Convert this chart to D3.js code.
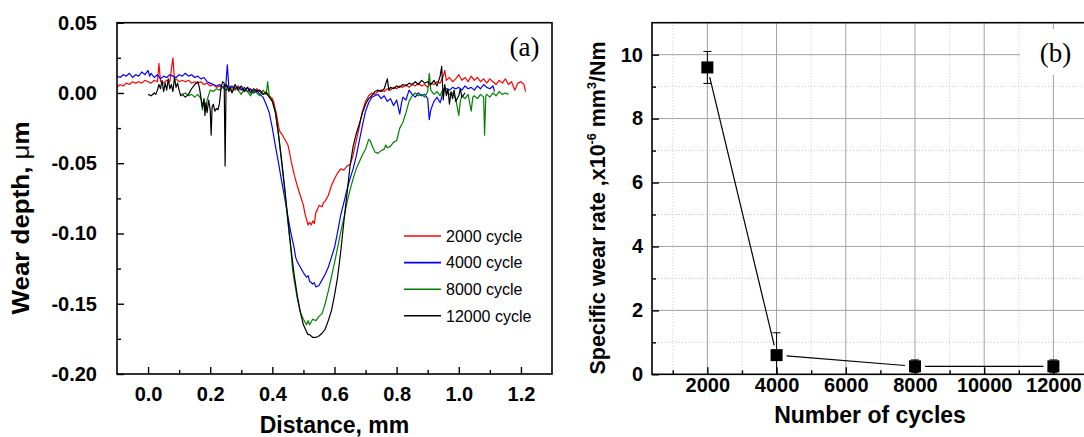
<!DOCTYPE html>
<html><head><meta charset="utf-8">
<script src="https://cdn.jsdelivr.net/npm/d3@7"></script>
<style>
body{margin:0;background:#fff}
svg{display:block}
text{font-family:"Liberation Sans",Arial,sans-serif}
</style>
</head><body>
<svg id="chart" width="1084" height="437"></svg>
<script>
// ---------- Panel (a): wear depth profiles [distance mm, depth um] ----------
const cycle2000 = [[-0.10,0.004],[-0.09,0.006],[-0.08,0.005],[-0.07,0.007],[-0.06,0.006],[-0.05,0.008],[-0.04,0.007],[-0.03,0.008],[-0.02,0.007],[-0.01,0.009],[0.00,0.008],[0.01,0.007],[0.02,0.009],[0.03,0.008],[0.035,0.021],[0.04,0.008],[0.05,0.007],[0.06,0.009],[0.07,0.008],[0.08,0.025],[0.085,0.009],[0.09,0.010],[0.10,0.008],[0.11,0.009],[0.12,0.008],[0.13,0.009],[0.14,0.007],[0.15,0.008],[0.16,0.007],[0.17,0.008],[0.18,0.006],[0.19,0.007],[0.20,0.005],[0.21,0.006],[0.22,0.004],[0.23,0.005],[0.24,0.004],[0.25,0.006],[0.26,0.003],[0.27,0.004],[0.28,0.002],[0.29,0.005],[0.30,0.003],[0.31,0.001],[0.32,0.004],[0.33,0.002],[0.34,0.000],[0.35,0.003],[0.36,0.001],[0.37,-0.001],[0.38,0.001],[0.39,-0.002],[0.40,-0.004],[0.405,-0.007],[0.41,-0.012],[0.415,-0.017],[0.42,-0.024],[0.425,-0.028],[0.43,-0.029],[0.44,-0.033],[0.45,-0.037],[0.455,-0.042],[0.46,-0.048],[0.47,-0.058],[0.48,-0.066],[0.49,-0.073],[0.50,-0.080],[0.505,-0.086],[0.51,-0.090],[0.515,-0.094],[0.52,-0.092],[0.525,-0.094],[0.53,-0.091],[0.535,-0.093],[0.54,-0.085],[0.545,-0.083],[0.55,-0.080],[0.56,-0.081],[0.565,-0.078],[0.57,-0.077],[0.58,-0.073],[0.59,-0.066],[0.60,-0.061],[0.61,-0.057],[0.62,-0.054],[0.63,-0.055],[0.64,-0.052],[0.65,-0.051],[0.655,-0.048],[0.66,-0.044],[0.67,-0.034],[0.68,-0.024],[0.69,-0.013],[0.70,-0.006],[0.71,-0.002],[0.72,0.000],[0.73,-0.001],[0.74,0.001],[0.75,0.002],[0.76,0.001],[0.77,0.003],[0.78,0.002],[0.79,0.004],[0.80,0.003],[0.81,0.005],[0.82,0.004],[0.83,0.006],[0.84,0.004],[0.85,0.006],[0.86,0.005],[0.87,0.007],[0.88,0.005],[0.89,0.006],[0.90,0.004],[0.91,0.007],[0.92,0.006],[0.93,0.008],[0.94,0.007],[0.95,0.012],[0.955,0.016],[0.96,0.009],[0.97,0.011],[0.98,0.008],[0.99,0.010],[1.00,0.013],[1.01,0.009],[1.02,0.011],[1.03,0.008],[1.04,0.012],[1.05,0.009],[1.06,0.011],[1.07,0.008],[1.08,0.010],[1.09,0.007],[1.10,0.010],[1.11,0.008],[1.12,0.006],[1.13,0.009],[1.14,0.007],[1.15,0.010],[1.16,0.006],[1.17,0.008],[1.18,0.002],[1.19,0.007],[1.20,0.008],[1.21,0.006],[1.215,0.001]];

const cycle4000 = [[-0.10,0.012],[-0.09,0.011],[-0.08,0.013],[-0.07,0.012],[-0.06,0.014],[-0.05,0.011],[-0.04,0.013],[-0.03,0.012],[-0.02,0.015],[-0.01,0.013],[0.00,0.016],[0.005,0.012],[0.01,0.014],[0.02,0.011],[0.03,0.013],[0.04,0.010],[0.05,0.012],[0.06,0.011],[0.07,0.013],[0.08,0.012],[0.09,0.011],[0.10,0.013],[0.11,0.012],[0.12,0.014],[0.13,0.012],[0.14,0.013],[0.15,0.011],[0.16,0.012],[0.17,0.010],[0.18,0.011],[0.19,0.008],[0.20,0.007],[0.21,0.006],[0.22,0.005],[0.23,0.006],[0.24,0.004],[0.25,0.005],[0.255,0.020],[0.26,0.004],[0.27,0.005],[0.28,0.003],[0.29,0.004],[0.30,0.002],[0.31,0.004],[0.32,0.001],[0.33,0.003],[0.34,0.000],[0.35,0.002],[0.36,-0.001],[0.37,-0.003],[0.38,-0.008],[0.39,-0.014],[0.40,-0.025],[0.41,-0.038],[0.42,-0.050],[0.43,-0.063],[0.44,-0.075],[0.45,-0.088],[0.46,-0.100],[0.47,-0.110],[0.475,-0.117],[0.48,-0.120],[0.49,-0.124],[0.50,-0.128],[0.51,-0.131],[0.515,-0.130],[0.52,-0.134],[0.53,-0.136],[0.535,-0.135],[0.54,-0.138],[0.55,-0.137],[0.56,-0.133],[0.57,-0.129],[0.58,-0.124],[0.59,-0.117],[0.60,-0.110],[0.61,-0.099],[0.62,-0.087],[0.63,-0.078],[0.64,-0.069],[0.65,-0.061],[0.66,-0.054],[0.67,-0.045],[0.68,-0.034],[0.69,-0.023],[0.70,-0.013],[0.71,-0.007],[0.72,-0.003],[0.73,-0.002],[0.74,-0.001],[0.75,-0.004],[0.76,-0.002],[0.77,-0.006],[0.78,-0.004],[0.79,-0.009],[0.80,-0.005],[0.81,-0.015],[0.815,-0.008],[0.82,-0.003],[0.83,-0.005],[0.84,0.002],[0.85,-0.001],[0.86,-0.003],[0.87,0.000],[0.88,-0.002],[0.89,-0.001],[0.90,-0.004],[0.905,-0.019],[0.91,-0.012],[0.92,-0.006],[0.93,-0.003],[0.94,-0.007],[0.95,0.001],[0.96,0.003],[0.97,0.002],[0.98,0.004],[0.99,0.003],[1.00,0.004],[1.01,0.002],[1.02,0.005],[1.03,0.003],[1.04,0.004],[1.05,0.002],[1.06,0.005],[1.07,0.003],[1.08,0.006],[1.09,0.004],[1.10,0.003],[1.11,0.005],[1.115,0.001]];

const cycle8000 = [[0.11,-0.001],[0.12,0.000],[0.13,-0.002],[0.14,-0.001],[0.15,-0.003],[0.16,-0.001],[0.17,-0.004],[0.175,-0.012],[0.18,-0.006],[0.185,-0.013],[0.19,-0.005],[0.20,0.002],[0.21,0.001],[0.22,0.003],[0.23,0.002],[0.24,0.004],[0.25,0.002],[0.26,0.003],[0.27,0.001],[0.28,0.004],[0.29,0.002],[0.30,-0.001],[0.31,0.003],[0.32,0.001],[0.33,-0.002],[0.34,0.002],[0.35,0.000],[0.36,-0.002],[0.37,0.002],[0.38,-0.001],[0.385,0.008],[0.39,-0.002],[0.40,-0.006],[0.41,-0.014],[0.42,-0.030],[0.43,-0.050],[0.44,-0.070],[0.45,-0.092],[0.46,-0.112],[0.465,-0.126],[0.47,-0.133],[0.48,-0.146],[0.49,-0.156],[0.50,-0.161],[0.51,-0.165],[0.515,-0.162],[0.52,-0.165],[0.53,-0.161],[0.54,-0.162],[0.55,-0.159],[0.56,-0.157],[0.57,-0.150],[0.58,-0.141],[0.59,-0.131],[0.60,-0.121],[0.61,-0.110],[0.62,-0.099],[0.63,-0.089],[0.64,-0.078],[0.65,-0.069],[0.66,-0.061],[0.67,-0.054],[0.68,-0.049],[0.69,-0.044],[0.70,-0.040],[0.71,-0.033],[0.715,-0.034],[0.72,-0.037],[0.73,-0.042],[0.74,-0.043],[0.75,-0.041],[0.76,-0.040],[0.765,-0.037],[0.77,-0.039],[0.78,-0.038],[0.79,-0.035],[0.80,-0.034],[0.81,-0.025],[0.82,-0.021],[0.83,-0.014],[0.84,-0.006],[0.85,-0.002],[0.86,0.000],[0.87,-0.002],[0.88,-0.001],[0.89,-0.003],[0.90,0.001],[0.905,0.014],[0.91,0.002],[0.92,-0.001],[0.93,0.001],[0.94,-0.002],[0.95,0.003],[0.96,0.001],[0.97,-0.001],[0.98,0.000],[0.99,-0.004],[1.00,-0.016],[1.005,-0.006],[1.01,-0.002],[1.02,-0.004],[1.03,-0.001],[1.04,-0.013],[1.045,-0.003],[1.05,-0.002],[1.06,-0.004],[1.07,-0.001],[1.08,-0.003],[1.083,-0.030],[1.087,-0.002],[1.09,-0.001],[1.10,-0.003],[1.11,0.000],[1.12,-0.002],[1.13,0.001],[1.14,-0.001],[1.15,0.000],[1.16,-0.001]];

const cycle12000 = [[0.00,-0.001],[0.01,-0.002],[0.02,0.000],[0.025,-0.001],[0.03,0.002],[0.035,0.006],[0.04,0.003],[0.045,0.009],[0.05,0.001],[0.055,0.007],[0.06,0.002],[0.065,0.010],[0.07,0.003],[0.075,0.006],[0.08,0.001],[0.085,0.011],[0.09,0.004],[0.095,0.007],[0.10,0.002],[0.105,-0.002],[0.11,-0.001],[0.12,-0.003],[0.13,-0.001],[0.14,0.003],[0.15,0.006],[0.16,0.008],[0.165,0.004],[0.17,-0.003],[0.175,-0.010],[0.18,-0.004],[0.183,-0.016],[0.186,-0.007],[0.19,-0.014],[0.195,-0.005],[0.20,-0.012],[0.203,-0.030],[0.206,-0.010],[0.21,-0.008],[0.215,-0.013],[0.22,-0.011],[0.225,-0.012],[0.23,-0.007],[0.235,0.004],[0.24,0.008],[0.245,0.007],[0.248,-0.052],[0.251,0.006],[0.255,0.005],[0.26,0.001],[0.265,0.004],[0.27,0.000],[0.275,0.003],[0.28,0.006],[0.29,0.002],[0.30,0.005],[0.31,0.001],[0.32,0.004],[0.33,0.000],[0.34,0.003],[0.35,0.001],[0.36,0.002],[0.37,-0.001],[0.38,0.000],[0.39,-0.003],[0.40,-0.006],[0.41,-0.014],[0.42,-0.030],[0.43,-0.048],[0.44,-0.068],[0.45,-0.090],[0.46,-0.111],[0.47,-0.129],[0.48,-0.144],[0.49,-0.156],[0.50,-0.165],[0.51,-0.170],[0.515,-0.172],[0.52,-0.172],[0.53,-0.174],[0.54,-0.174],[0.55,-0.173],[0.56,-0.171],[0.57,-0.168],[0.58,-0.162],[0.59,-0.155],[0.60,-0.144],[0.61,-0.131],[0.62,-0.113],[0.63,-0.092],[0.64,-0.072],[0.65,-0.052],[0.66,-0.038],[0.67,-0.029],[0.68,-0.022],[0.69,-0.014],[0.70,-0.008],[0.71,-0.004],[0.72,-0.002],[0.73,0.001],[0.74,0.002],[0.75,0.001],[0.76,0.003],[0.77,0.010],[0.775,0.002],[0.78,0.004],[0.79,0.003],[0.80,0.005],[0.81,0.004],[0.82,0.006],[0.83,0.005],[0.84,0.007],[0.85,0.006],[0.86,0.008],[0.87,0.006],[0.88,0.009],[0.89,0.007],[0.90,0.008],[0.91,0.006],[0.92,0.009],[0.93,0.005],[0.94,0.012],[0.945,0.019],[0.95,-0.005],[0.955,0.006],[0.96,-0.002],[0.965,0.003],[0.97,-0.008],[0.975,0.001],[0.98,-0.004],[0.985,0.002],[0.99,-0.006],[1.00,-0.002],[1.005,0.003],[1.01,-0.003],[1.02,0.000]];

const profileNames = ["2000 cycle","4000 cycle","8000 cycle","12000 cycle"];
const profileColors = ["#ff0000","#0000ff","#008000","#000000"];
const profileXTicks = [0.0,0.2,0.4,0.6,0.8,1.0,1.2];
const profileXMinor = [0.1,0.3,0.5,0.7,0.9,1.1];
const profileYTicks = [0.05,0.00,-0.05,-0.10,-0.15,-0.20];
const profileYMinor = [0.025,-0.025,-0.075,-0.125,-0.175];

// ---------- Panel (b): specific wear rate ----------
const cycles = [2000,4000,8000,12000];
const wearRate = [9.6,0.6,0.25,0.25];
const wearErr = [0.5,0.7,0.2,0.2];
const rateXTicks = [2000,4000,6000,8000,10000,12000];
const rateXMinor = [1000,3000,5000,7000,9000,11000,13000];
const rateYTicks = [0,2,4,6,8,10];
const rateYMinor = [1,3,5,7,9];

const svg = d3.select("#chart");
svg.append("rect").attr("width",1084).attr("height",437).attr("fill","#fff");

// ===== Panel (a) =====
const xL = d3.scaleLinear().domain([-0.1,1.3]).range([117,552]);
const yL = d3.scaleLinear().domain([-0.2,0.05]).range([374,22.7]);

svg.append("clipPath").attr("id","clipA").append("rect")
  .attr("x",xL.range()[0]).attr("y",yL.range()[1])
  .attr("width",xL.range()[1]-xL.range()[0]).attr("height",yL.range()[0]-yL.range()[1]);

const line = d3.line().x(d=>xL(d[0])).y(d=>yL(d[1]));
const gA = svg.append("g").attr("clip-path","url(#clipA)");
[cycle2000,cycle4000,cycle8000,cycle12000].forEach((s,i)=>{
  gA.append("path").datum(s).attr("d",line).attr("fill","none")
    .attr("stroke",profileColors[i]).attr("stroke-width",1.2).attr("stroke-linejoin","round");
});

function styleAxis(g){
  g.select(".domain").remove();
  g.selectAll(".tick line").attr("stroke","#000").attr("stroke-width",1.4);
  g.selectAll(".tick text").attr("fill","#000").style("font-family",'"Liberation Sans",Arial,sans-serif').style("font-weight","bold");
}
const fmtL = d => (d<0?"-":"") + Math.abs(d).toFixed(2);

svg.append("g").attr("transform",`translate(0,${yL.range()[0]})`)
  .call(d3.axisBottom(xL).tickValues(profileXTicks).tickSize(-7).tickPadding(13).tickFormat(d=>d.toFixed(1)))
  .call(styleAxis).call(g=>g.selectAll(".tick text").style("font-size","20px"));
svg.append("g").attr("transform",`translate(0,${yL.range()[0]})`)
  .call(d3.axisBottom(xL).tickValues(profileXMinor).tickSize(-4).tickFormat(""))
  .call(styleAxis);
svg.append("g").attr("transform",`translate(${xL.range()[0]},0)`)
  .call(d3.axisLeft(yL).tickValues(profileYTicks).tickSize(-7).tickPadding(20).tickFormat(fmtL))
  .call(styleAxis).call(g=>g.selectAll(".tick text").style("font-size","20px"));
svg.append("g").attr("transform",`translate(${xL.range()[0]},0)`)
  .call(d3.axisLeft(yL).tickValues(profileYMinor).tickSize(-4).tickFormat(""))
  .call(styleAxis);

svg.append("rect").attr("x",xL.range()[0]).attr("y",yL.range()[1])
  .attr("width",xL.range()[1]-xL.range()[0]).attr("height",yL.range()[0]-yL.range()[1])
  .attr("fill","none").attr("stroke","#000").attr("stroke-width",1.6);

// legend
const leg = svg.append("g");
profileNames.forEach((n,i)=>{
  const y = 236 + i*26.6;
  leg.append("line").attr("x1",404).attr("x2",441).attr("y1",y).attr("y2",y)
    .attr("stroke",profileColors[i]).attr("stroke-width",1.6);
  leg.append("text").attr("x",446).attr("y",y+5.8).attr("font-size",16).attr("fill","#000").text(n);
});

svg.append("text").attr("x",524.5).attr("y",56).attr("text-anchor","middle")
  .style("font-family",'"Liberation Serif","Times New Roman",serif').attr("font-size",27).text("(a)");

svg.append("text").attr("x",(xL.range()[0]+xL.range()[1])/2).attr("y",433).attr("text-anchor","middle")
  .attr("font-size",23).attr("font-weight","bold").text("Distance, mm");

const yLab = svg.append("text").attr("transform","translate(29,218) rotate(-90)")
  .attr("text-anchor","middle").attr("font-size",24).attr("font-weight","bold")
  .attr("textLength",193).attr("lengthAdjust","spacingAndGlyphs");
yLab.append("tspan").text("Wear depth, ");
yLab.append("tspan").attr("font-weight","normal").text("\u03bc");
yLab.append("tspan").text("m");

// ===== Panel (b) =====
const xR = d3.scaleLinear().domain([400,13000]).range([652,1088]);
const yR = d3.scaleLinear().domain([0,11]).range([374.3,22.7]);

const grid = svg.append("g");
grid.selectAll(".mx").data(rateXMinor).join("line")
  .attr("x1",d=>xR(d)).attr("x2",d=>xR(d)).attr("y1",yR.range()[0]).attr("y2",yR.range()[1])
  .attr("stroke","#c8c8c8").attr("stroke-width",1).attr("stroke-dasharray","1,2");
grid.selectAll(".my").data(rateYMinor).join("line")
  .attr("y1",d=>yR(d)).attr("y2",d=>yR(d)).attr("x1",xR.range()[0]).attr("x2",xR.range()[1])
  .attr("stroke","#c8c8c8").attr("stroke-width",1).attr("stroke-dasharray","1,2");
grid.selectAll(".gx").data(rateXTicks).join("line")
  .attr("x1",d=>xR(d)).attr("x2",d=>xR(d)).attr("y1",yR.range()[0]).attr("y2",yR.range()[1])
  .attr("stroke","#a3a3a3").attr("stroke-width",1);
grid.selectAll(".gy").data(rateYTicks.filter(d=>d>0)).join("line")
  .attr("y1",d=>yR(d)).attr("y2",d=>yR(d)).attr("x1",xR.range()[0]).attr("x2",xR.range()[1])
  .attr("stroke","#a3a3a3").attr("stroke-width",1);

svg.append("g").attr("transform",`translate(0,${yR.range()[0]})`)
  .call(d3.axisBottom(xR).tickValues(rateXTicks).tickSize(-7).tickPadding(4).tickFormat(d3.format("d")))
  .call(styleAxis).call(g=>g.selectAll(".tick text").style("font-size","20px"));
svg.append("g").attr("transform",`translate(0,${yR.range()[0]})`)
  .call(d3.axisBottom(xR).tickValues(rateXMinor).tickSize(-4).tickFormat(""))
  .call(styleAxis);
svg.append("g").attr("transform",`translate(${xR.range()[0]},0)`)
  .call(d3.axisLeft(yR).tickValues(rateYTicks).tickSize(-7).tickPadding(9).tickFormat(d3.format("d")))
  .call(styleAxis).call(g=>g.selectAll(".tick text").style("font-size","20px"));
svg.append("g").attr("transform",`translate(${xR.range()[0]},0)`)
  .call(d3.axisLeft(yR).tickValues(rateYMinor).tickSize(-4).tickFormat(""))
  .call(styleAxis);

svg.append("rect").attr("x",xR.range()[0]).attr("y",yR.range()[1])
  .attr("width",xR.range()[1]-xR.range()[0]).attr("height",yR.range()[0]-yR.range()[1])
  .attr("fill","none").attr("stroke","#000").attr("stroke-width",1.6);

svg.append("clipPath").attr("id","clipB").append("rect")
  .attr("x",xR.range()[0]).attr("y",yR.range()[1])
  .attr("width",xR.range()[1]-xR.range()[0]).attr("height",yR.range()[0]-yR.range()[1]);
const gB = svg.append("g").attr("clip-path","url(#clipB)");

// connecting segments with gaps at markers
const gap = 10;
for(let i=0;i<cycles.length-1;i++){
  const x1=xR(cycles[i]), y1=yR(wearRate[i]), x2=xR(cycles[i+1]), y2=yR(wearRate[i+1]);
  const L=Math.hypot(x2-x1,y2-y1), ux=(x2-x1)/L, uy=(y2-y1)/L;
  gB.append("line").attr("x1",x1+ux*gap).attr("y1",y1+uy*gap).attr("x2",x2-ux*gap).attr("y2",y2-uy*gap)
    .attr("stroke","#000").attr("stroke-width",1.2);
}
// error bars
cycles.forEach((c,i)=>{
  const x=xR(c), yt=yR(wearRate[i]+wearErr[i]), yb=yR(wearRate[i]-wearErr[i]);
  gB.append("line").attr("x1",x).attr("x2",x).attr("y1",yt).attr("y2",yb).attr("stroke","#000").attr("stroke-width",1);
  [yt,yb].forEach(y=>gB.append("line").attr("x1",x-4).attr("x2",x+4).attr("y1",y).attr("y2",y).attr("stroke","#000").attr("stroke-width",1));
});
// markers
gB.selectAll(".pt").data(cycles).join("rect")
  .attr("x",d=>xR(d)-6).attr("y",(d,i)=>yR(wearRate[i])-6).attr("width",12).attr("height",12).attr("fill","#000");

// (b) label with white box
svg.append("rect").attr("x",1020).attr("y",29).attr("width",70).attr("height",46).attr("fill","#fff");
svg.append("text").attr("x",1055.5).attr("y",62).attr("text-anchor","middle")
  .style("font-family",'"Liberation Serif","Times New Roman",serif').attr("font-size",27).text("(b)");

svg.append("text").attr("x",(xR.range()[0]+xR.range()[1])/2).attr("y",423).attr("text-anchor","middle")
  .attr("font-size",23).attr("font-weight","bold").text("Number of cycles");

const rLab = svg.append("text").attr("transform","translate(605,208) rotate(-90)")
  .attr("text-anchor","middle").attr("font-size",22).attr("font-weight","bold")
  .attr("textLength",333).attr("lengthAdjust","spacingAndGlyphs");
rLab.append("tspan").text("Specific wear rate ,x10");
rLab.append("tspan").attr("font-size",13).attr("dy",-9).text("-6");
rLab.append("tspan").attr("dy",9).text(" mm");
rLab.append("tspan").attr("font-size",13).attr("dy",-9).text("3");
rLab.append("tspan").attr("dy",9).text("/Nm");
</script>
</body></html>
